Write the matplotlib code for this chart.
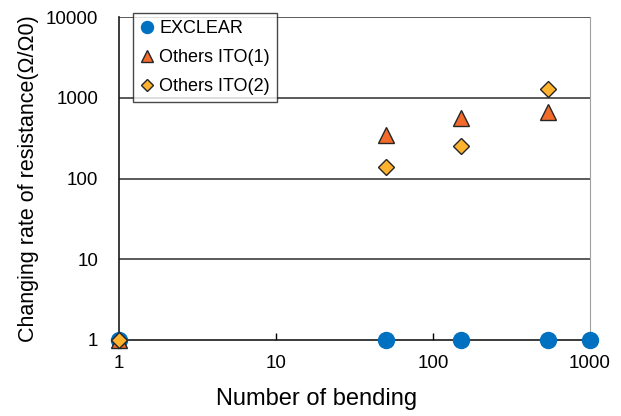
import numpy as np
import matplotlib.pyplot as plt

plt.rcParams['font.family'] = ['Liberation Sans', 'DejaVu Sans']

# data
excl_x = [1, 50, 150, 540, 1000]
excl_y = [1, 1, 1, 1, 1]
ito1_x = [1, 50, 150, 540]
ito1_y = [1, 346, 560, 660]
ito2_x = [1, 50, 150, 540]
ito2_y = [1, 139, 252, 1280]
yticks = [1, 10, 100, 1000, 10000]
xticks = [1, 10, 100, 1000]

fig = plt.figure(figsize=(6.21, 4.16), dpi=100)
ax = fig.add_axes([0.1916, 0.1827, 0.7584, 0.7763])
ax.set_xscale('log')
ax.set_yscale('log')
ax.set_xlim(1, 1000)
ax.set_ylim(1, 10000)

for yv in yticks[1:]:
    ax.axhline(yv, color='#4d4d4d', lw=1.3, zorder=1)

ax.plot(excl_x, excl_y, 'o', ms=11.5, color='#0070C0', mec='#0070C0',
        label='EXCLEAR', clip_on=False, zorder=3)
ax.plot(ito1_x, ito1_y, '^', ms=11.5, color='#F26B2A', mec='#262626', mew=1,
        label='Others ITO(1)', clip_on=False, zorder=4)
ax.plot(ito2_x, ito2_y, 'D', ms=8.5, color='#FFB22E', mec='#262626', mew=1,
        label='Others ITO(2)', clip_on=False, zorder=5)

ax.spines['top'].set_visible(False)
ax.spines['right'].set_color('#a0a0a0')
ax.spines['left'].set_color('#1a1a1a')
ax.spines['bottom'].set_color('#1a1a1a')
ax.spines['left'].set_linewidth(1.2)
ax.spines['bottom'].set_linewidth(1.2)

ax.set_xticks(xticks)
ax.set_xticklabels([str(v) for v in xticks])
ax.set_yticks(yticks)
ax.set_yticklabels([str(v) for v in yticks])
ax.minorticks_off()
ax.tick_params(axis='x', direction='in', length=5, width=1, pad=11, labelsize=13.5)
ax.tick_params(axis='y', length=0, pad=15, labelsize=13.5)

ax.set_xlabel('Number of bending', fontsize=17)
ax.xaxis.set_label_coords(0.42, -0.15)
ax.set_ylabel('Changing rate of resistance(Ω/Ω0)', fontsize=15.5, labelpad=5)

leg = ax.legend(loc='upper left', bbox_to_anchor=(0.03, 1.012), fontsize=13,
                frameon=True, fancybox=False, handlelength=0.7,
                handletextpad=0.35, borderpad=0.4, labelspacing=0.65,
                borderaxespad=0)
leg.get_frame().set_edgecolor('#1a1a1a')
leg.get_frame().set_linewidth(1)
leg.set_zorder(6)
for h in leg.legend_handles:
    h.set_markersize(h.get_markersize() * 0.75)

fig.savefig('out.png', dpi=100)
